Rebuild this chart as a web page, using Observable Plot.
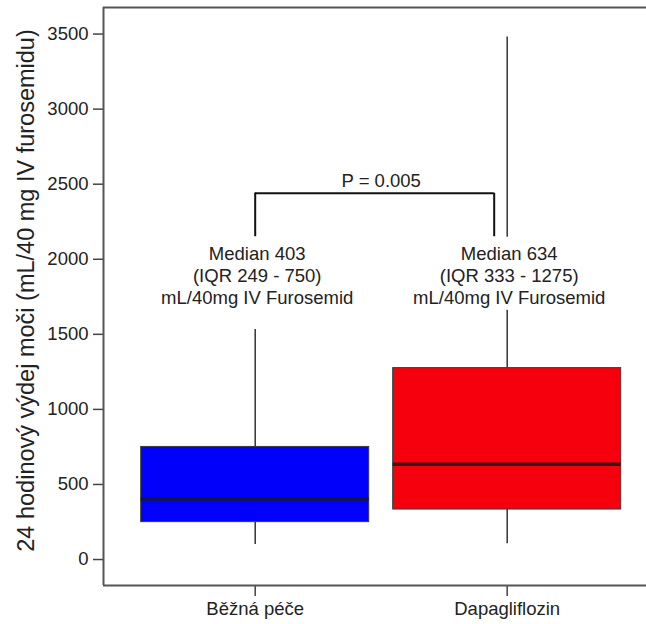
<!DOCTYPE html>
<html>
<head>
<meta charset="utf-8">
<script src="https://cdn.jsdelivr.net/npm/d3@7"></script>
<script src="https://cdn.jsdelivr.net/npm/@observablehq/plot@0.6"></script>
<style>
  html, body { margin: 0; padding: 0; background: #fff; }
  svg g[aria-label$="-axis tick"] path { stroke-width: 1.5px; stroke: #444; }
</style>
</head>
<body>
<div id="chart"></div>
<script>
// ---- data ----
const groups = ["Běžná péče", "Dapagliflozin"];
const whiskerLow = [100, 105];
const q1 = [249, 333];
const median = [403, 634];
const q3 = [750, 1275];
const whiskerHigh = [1532, 3480];
const boxColors = ["#0000fb", "#f5000c"];
const annotations = [
  "Median 403\n(IQR 249 - 750)\nmL/40mg IV Furosemid",
  "Median 634\n(IQR 333 - 1275)\nmL/40mg IV Furosemid"
];
const yTicks = [0, 500, 1000, 1500, 2000, 2500, 3000, 3500];
const yDomain = [-173, 3677];
const yTitle = "24 hodinový výdej moči (mL/40 mg IV furosemidu)";
const pLabel = "P = 0.005";
const pLabelY = 2520;
const bracketTop = 2440;
const bracketBottom = 2150;
const annotationY = 1898;
const annotationGap = [1660, 2147]; // whisker hidden behind the annotation text

const rows = groups.map((g, i) => ({
  group: g, lo: whiskerLow[i], q1: q1[i], med: median[i], q3: q3[i], hi: whiskerHigh[i],
  color: boxColors[i], note: annotations[i]
}));

// ---- layout ----
const W = 646, H = 624;
const ML = 103, MR = -2, MT = 7, MB = 39;
const padIn = 0.0952, padOut = 0.129, align = 0.58;
const n = groups.length;
const step = (W - ML - MR) / (n - padIn + 2 * padOut);
const bandwidth = step * (1 - padIn);
const leftGap = (W - ML - MR - step * (n - padIn)) * align;
const toFrameLeft = -(leftGap + bandwidth / 2);
const legShift = -13;
const font = "'Liberation Sans', Arial, Helvetica, sans-serif";
const frameStyle = { stroke: "#555", strokeWidth: 2 };

const chart = Plot.plot({
  width: W,
  height: H,
  marginLeft: ML,
  marginRight: MR,
  marginTop: MT,
  marginBottom: MB,
  style: { fontFamily: font, fontSize: "18.5px", color: "#222", background: "#fff" },
  x: {
    domain: groups, type: "band", paddingInner: padIn, paddingOuter: padOut, align: align,
    round: false, label: null, tickSize: 11, tickPadding: 5
  },
  y: {
    domain: yDomain, ticks: yTicks, tickFormat: d => String(d), label: null, tickSize: 10, tickPadding: 5
  },
  marks: [
    // frame: top, bottom, left
    Plot.ruleY(yDomain, frameStyle),
    Plot.ruleX([groups[0]], { x: d => d, y1: () => yDomain[0], y2: () => yDomain[1], dx: toFrameLeft, ...frameStyle }),
    // whiskers
    Plot.ruleX(rows, { x: "group", y1: "lo", y2: "q1", stroke: "#333", strokeWidth: 1.5 }),
    Plot.ruleX(rows, { x: "group", y1: "q3", y2: "hi", stroke: "#333", strokeWidth: 1.5 }),
    // boxes
    Plot.barY(rows, { x: "group", y1: "q1", y2: "q3", fill: "color", stroke: "#3a3a3a", strokeWidth: 1 }),
    // medians
    Plot.tickY(rows, { x: "group", y: "med", stroke: "#1a1a1a", strokeOpacity: 0.85, strokeWidth: 3.5 }),
    // white gap behind the Dapagliflozin annotation
    Plot.barY([rows[1]], { x: "group", y1: () => annotationGap[0], y2: () => annotationGap[1], fill: "#fff" }),
    // significance bracket
    Plot.ruleY([bracketTop], {
      x1: () => groups[0], x2: () => groups[1],
      insetLeft: bandwidth / 2, insetRight: bandwidth / 2 - legShift,
      stroke: "#111", strokeWidth: 2
    }),
    Plot.ruleX([groups[0]], { x: d => d, y1: () => bracketBottom, y2: () => bracketTop, stroke: "#111", strokeWidth: 2 }),
    Plot.ruleX([groups[1]], { x: d => d, y1: () => bracketBottom, y2: () => bracketTop, dx: legShift, stroke: "#111", strokeWidth: 2 }),
    Plot.text([pLabel], { x: () => groups[0], y: () => pLabelY, text: d => d, dx: step / 2, fill: "#222" }),
    // median annotations
    Plot.text(rows, { x: "group", y: () => annotationY, text: "note", lineHeight: 1.19, dx: 2, fill: "#222" }),
    // y axis title
    Plot.text([yTitle], {
      frameAnchor: "left", textAnchor: "middle", text: d => d, rotate: -90,
      dx: -77, dy: -6, fontSize: 23.5, fill: "#222"
    })
  ]
});

document.getElementById("chart").appendChild(chart);
</script>
</body>
</html>
